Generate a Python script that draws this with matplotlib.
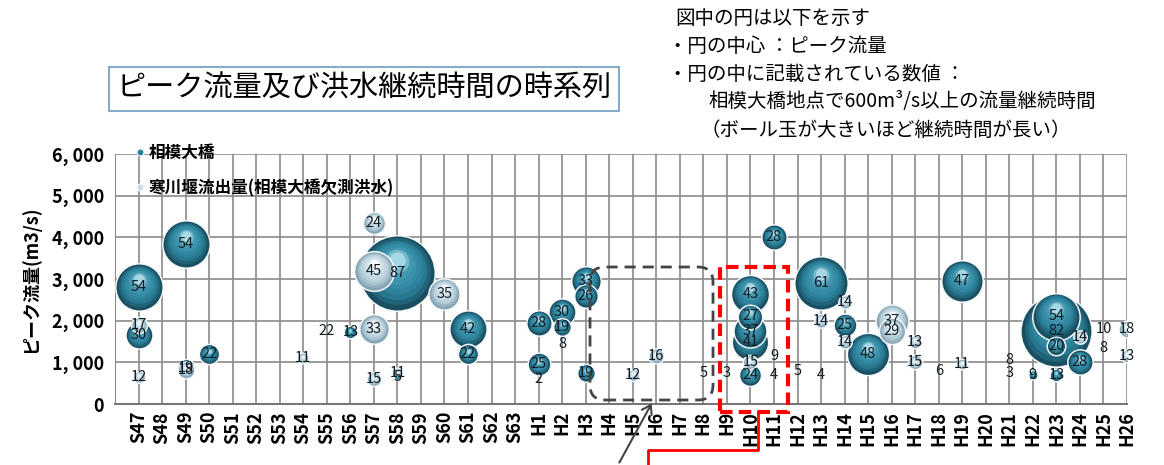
import matplotlib.pyplot as plt
from matplotlib.lines import Line2D
from matplotlib.patches import FancyBboxPatch, Rectangle, FancyArrowPatch
from matplotlib.colors import LinearSegmentedColormap
from matplotlib.ticker import FuncFormatter

plt.rcParams['font.family'] = ['Noto Sans CJK JP', 'DejaVu Sans']

# categories (water years)
years = [f'S{n}' for n in range(47, 64)] + [f'H{n}' for n in range(1, 27)]

# 相模大橋: year, peak flow (m3/s), duration above 600 m3/s (h)
sagami_year = ['S47', 'S47', 'S49', 'S49', 'S50', 'S56', 'S58', 'S58', 'S61', 'S61',
               'H1', 'H1', 'H2', 'H2', 'H3', 'H3', 'H3', 'H10', 'H10', 'H10',
               'H10', 'H10', 'H11', 'H13', 'H14', 'H15', 'H19', 'H22', 'H23', 'H23',
               'H23', 'H23', 'H24']
sagami_peak = [2800, 1650, 3850, 870, 1200, 1720, 3150, 650, 1800, 1200,
               1950, 950, 2200, 1850, 2950, 2600, 750, 2650, 2100, 1750,
               1500, 700, 4000, 2900, 1900, 1200, 2950, 700, 1750, 2100,
               1400, 700, 1000]
sagami_hours = [54, 30, 54, 19, 22, 13, 87, 5, 42, 22,
                28, 25, 30, 19, 33, 26, 19, 43, 27, 37,
                41, 24, 28, 61, 25, 48, 47, 9, 82, 54,
                20, 13, 28]

# 寒川堰流出量 (相模大橋欠測洪水)
samukawa_year = ['S47', 'S47', 'S49', 'S54', 'S57', 'S57', 'S57', 'S57', 'S58', 'S60',
                 'H5', 'H6', 'H10', 'H13', 'H14', 'H14', 'H16', 'H16', 'H17', 'H17',
                 'H19', 'H24', 'H26', 'H26']
samukawa_peak = [1900, 650, 820, 1100, 4350, 3200, 1800, 600, 750, 2650,
                 700, 1150, 1000, 2000, 2450, 1500, 2000, 1750, 1500, 1000,
                 950, 1600, 1800, 1150]
samukawa_hours = [17, 12, 18, 11, 24, 45, 33, 15, 11, 35,
                  12, 16, 15, 14, 14, 14, 37, 29, 13, 15,
                  11, 14, 18, 13]

# values shown without a visible ball
small_year = ['S55', 'H1', 'H2', 'H8', 'H9', 'H11', 'H11', 'H12', 'H13', 'H18',
              'H21', 'H21', 'H25', 'H25']
small_peak = [1750, 600, 1450, 750, 750, 1150, 700, 800, 700, 800,
              1050, 750, 1800, 1350]
small_text = ['22', '2', '8', '5', '3', '9', '4', '5', '4', '6',
              '8', '3', '10', '8']

W, H = 1164, 465
fig = plt.figure(figsize=(W / 100, H / 100), dpi=100)
ax = fig.add_axes([115 / W, 1 - 404 / H, (1127 - 115) / W, 250 / H])
ax.set_xlim(-1, len(years) - 1)
ax.set_ylim(0, 6000)
units_per_px = 6000 / 250

dark_cmap = LinearSegmentedColormap.from_list(
    'dark', [(0, '#1a4f61'), (0.3, '#2a7f98'), (0.75, '#4399b1'), (1, '#a6d7e4')])
light_cmap = LinearSegmentedColormap.from_list(
    'light', [(0, '#86a4b4'), (0.3, '#b4cdd9'), (0.75, '#d5e4eb'), (1, '#f7fbfc')])


def bubble(x, y, hours, cmap, z):
    r = hours * 0.425
    ax.scatter(x, y, s=(2 * (r + 1.5) * 0.72) ** 2, color='#f4f8fa', linewidths=0, zorder=z)
    n = 9
    for k in range(n):
        t = k / (n - 1)
        rk = r * (1 - 0.78 * t)
        dy = (r - rk) * 0.45 * units_per_px
        ax.scatter(x, y + dy, s=(2 * rk * 0.72) ** 2, color=cmap(t), linewidths=0,
                   zorder=z + 0.01 * (k + 1))


pts = [(years.index(c), p, h, dark_cmap) for c, p, h in zip(sagami_year, sagami_peak, sagami_hours)]
pts += [(years.index(c), p, h, light_cmap) for c, p, h in zip(samukawa_year, samukawa_peak, samukawa_hours)]
pts.sort(key=lambda q: -q[2])
for i, (x, y, h, cm) in enumerate(pts):
    bubble(x, y, h, cm, 3 + i)
    ax.text(x, y, str(h), ha='center', va='center', fontsize=10.5, color='#111c24', zorder=200)

for c, p, t in zip(small_year, small_peak, small_text):
    ax.text(years.index(c), p, t, ha='center', va='center', fontsize=10.5, color='#111c24', zorder=200)

# axes styling
ax.set_xticks(range(-1, len(years)))
ax.set_xticklabels([''] + years, rotation=90, fontsize=13, fontweight='bold')
ax.set_yticks(range(0, 6001, 1000))
ax.yaxis.set_major_formatter(FuncFormatter(lambda v, _: f'{v:,.0f}'.replace(',', ', ')))
ax.tick_params(length=0, labelsize=13, pad=8)
ax.tick_params(axis='x', pad=5)
for lab in ax.get_yticklabels():
    lab.set_fontweight('bold')
ax.grid(True, color='#8a8a8a', lw=1.2)
ax.set_axisbelow(True)
for s in ['top', 'right']:
    ax.spines[s].set_visible(False)
ax.spines['left'].set_color('#8a8a8a')
ax.spines['bottom'].set_color('#777777')
ax.spines['bottom'].set_linewidth(1.5)
ax.set_ylabel('ピーク流量(m3/s)', fontsize=13, fontweight='bold', labelpad=8)

handles = [Line2D([], [], marker='o', ls='none', markersize=5, markerfacecolor='#2a7f98',
                  markeredgecolor='#dcecf2'),
           Line2D([], [], marker='o', ls='none', markersize=5, markerfacecolor='#c9dce6',
                  markeredgecolor='#f4f8fa')]
ax.legend(handles, ['相模大橋', '寒川堰流出量(相模大橋欠測洪水)'], loc='upper left',
          bbox_to_anchor=(0.012, 1.075), frameon=False, handlelength=0.6, handletextpad=0.2,
          labelspacing=1.05, borderpad=0, prop={'size': 12, 'weight': 'bold'})

# title box
fig.text(364 / W, 1 - 89 / H, 'ピーク流量及び洪水継続時間の時系列', fontsize=21, ha='center', va='center',
         bbox=dict(boxstyle='square,pad=0.25', fc='white', ec='#86acc9', lw=1.5))

# explanation text
notes = [(675, 18, '図中の円は以下を示す'),
         (668, 46, '・円の中心 ：ピーク流量'),
         (668, 75, '・円の中に記載されている数値 ：'),
         (708, 102, '相模大橋地点で600m³/s以上の流量継続時間'),
         (700, 130, '（ボール玉が大きいほど継続時間が長い）')]
for px, py, t in notes:
    fig.text(px / W, 1 - py / H, t, fontsize=14, ha='left', va='center')

# highlight frames (pixel positions, inches = px / 100)
inch = fig.dpi_scale_trans
fig.add_artist(FancyBboxPatch((5.90, (H - 400) / 100), 1.23, 1.33,
                              boxstyle='round,pad=0,rounding_size=0.15', fill=False,
                              ec='#444444', lw=2, ls=(0, (4, 2.5)), transform=inch, zorder=300))
fig.add_artist(Rectangle((7.20, (H - 412) / 100), 0.68, 1.45, fill=False, ec='#ff0000',
                         lw=3, ls=(0, (3, 1.5)), transform=inch, zorder=300))
fig.add_artist(Line2D([7.58, 7.58, 6.48, 6.48],
                      [(H - 412) / 100, (H - 450) / 100, (H - 450) / 100, 0],
                      color='#ff0000', lw=2, transform=inch, zorder=300))
fig.add_artist(FancyArrowPatch((6.18, 0), (6.53, (H - 401) / 100), arrowstyle='->,head_length=6,head_width=4',
                               color='#444444', lw=1.5, transform=inch, zorder=300))

fig.savefig('out.png', dpi=100)
